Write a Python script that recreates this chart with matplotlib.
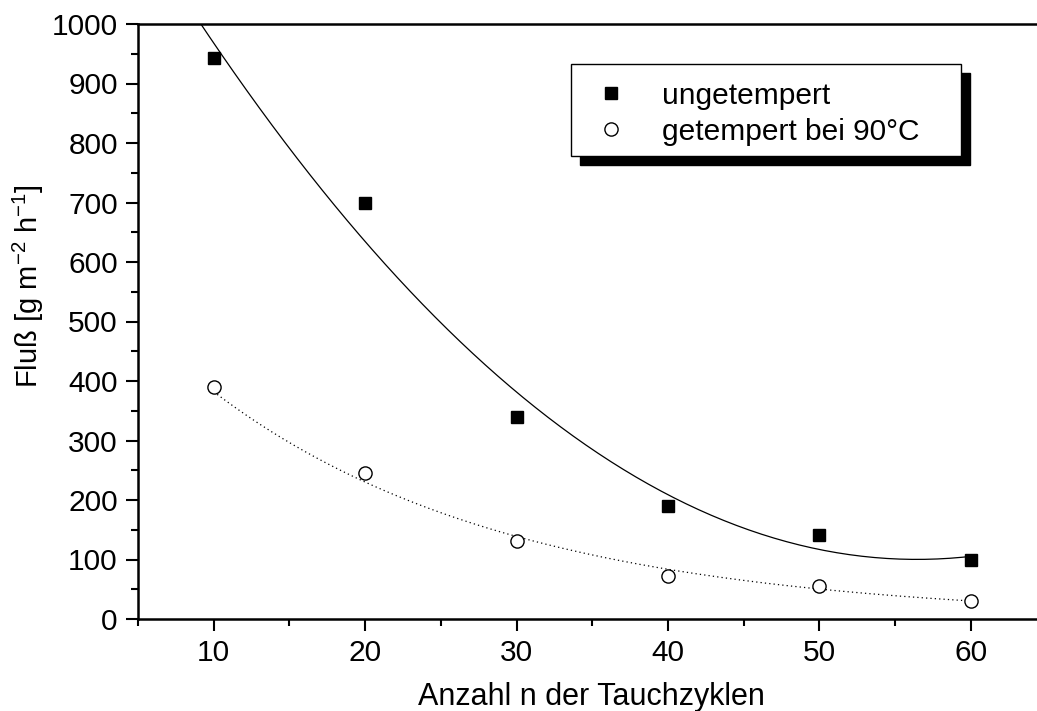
import matplotlib
matplotlib.use("Agg")
import matplotlib.pyplot as plt
from matplotlib.patches import Rectangle
from matplotlib.ticker import MultipleLocator
import numpy as np

plt.rcParams['font.family'] = ['Liberation Sans', 'DejaVu Sans']
plt.rcParams['mathtext.fontset'] = 'custom'
plt.rcParams['mathtext.rm'] = 'Liberation Sans'

zyklen = np.array([10, 20, 30, 40, 50, 60])
ungetempert = np.array([943, 700, 340, 190, 142, 100])
getempert = np.array([390, 245, 131, 73, 55, 31])

# Anpassungen: Polynom 2. Ordnung bzw. exponentieller Abfall
p2 = np.polyfit(zyklen, ungetempert, 2)
pexp = np.polyfit(zyklen, np.log(getempert), 1)

fig = plt.figure(figsize=(10.37, 7.11), dpi=100)
W, H = 1037, 711
ax = fig.add_axes([138 / W, 1 - 619 / H, (1037 - 138) / W, (619 - 24) / H])

xs = np.linspace(5, 60, 200)
ax.plot(xs, np.polyval(p2, xs), color='black', lw=0.9)
xe = np.linspace(10, 60, 200)
ax.plot(xe, np.exp(np.polyval(pexp, xe)), color='black', lw=0.9, ls=(0, (1, 2.5)))

ax.plot(zyklen, ungetempert, 's', color='black', ms=8.2, label='ungetempert')
ax.plot(zyklen, getempert, 'o', mfc='white', mec='black', mew=1.0, ms=9.5,
        label='getempert bei 90°C')

ax.set_xlim(5, 5 + (1037 - 138) / 15.14)
ax.set_ylim(0, 1000)
ax.xaxis.set_major_locator(MultipleLocator(10))
ax.xaxis.set_minor_locator(MultipleLocator(5))
ax.yaxis.set_major_locator(MultipleLocator(100))
ax.yaxis.set_minor_locator(MultipleLocator(50))
ax.spines['right'].set_visible(False)
for s in ['left', 'bottom', 'top']:
    ax.spines[s].set_linewidth(1.8)
ax.tick_params(which='major', direction='out', length=8.5, width=1.5,
               labelsize=21.5, pad=6)
ax.tick_params(which='minor', direction='out', length=5, width=1.5)
ax.tick_params(top=False, right=False, which='both')

ax.set_xlabel('Anzahl n der Tauchzyklen', fontsize=22)
ax.xaxis.set_label_coords(0.504, -0.106)
ax.set_ylabel('Fluß [g m$^{\\mathregular{-2}}$ h$^{\\mathregular{-1}}$]', fontsize=21)
ax.yaxis.set_label_coords(-0.102, 0.56)

# Legende mit Schatten
bx0, by0, bx1, by1 = 571, 64, 961, 156
ax.add_patch(Rectangle(((bx0 + 9) / W, 1 - (by1 + 9) / H),
                       (bx1 - bx0) / W, (by1 - by0) / H,
                       transform=fig.transFigure, facecolor='black',
                       edgecolor='black', zorder=5, clip_on=False))
ax.add_patch(Rectangle((bx0 / W, 1 - by1 / H),
                       (bx1 - bx0) / W, (by1 - by0) / H,
                       transform=fig.transFigure, facecolor='white',
                       edgecolor='black', lw=1.0, zorder=6, clip_on=False))
leg = ax.legend(loc='upper left', bbox_to_anchor=(bx0 / W, 1 - by0 / H),
                bbox_transform=fig.transFigure, frameon=False, fontsize=21.5,
                handletextpad=0.95, borderpad=0.3, labelspacing=0.26,
                handlelength=1.5, borderaxespad=0.3)
leg.set_zorder(7)

fig.savefig('out.png', dpi=100)
